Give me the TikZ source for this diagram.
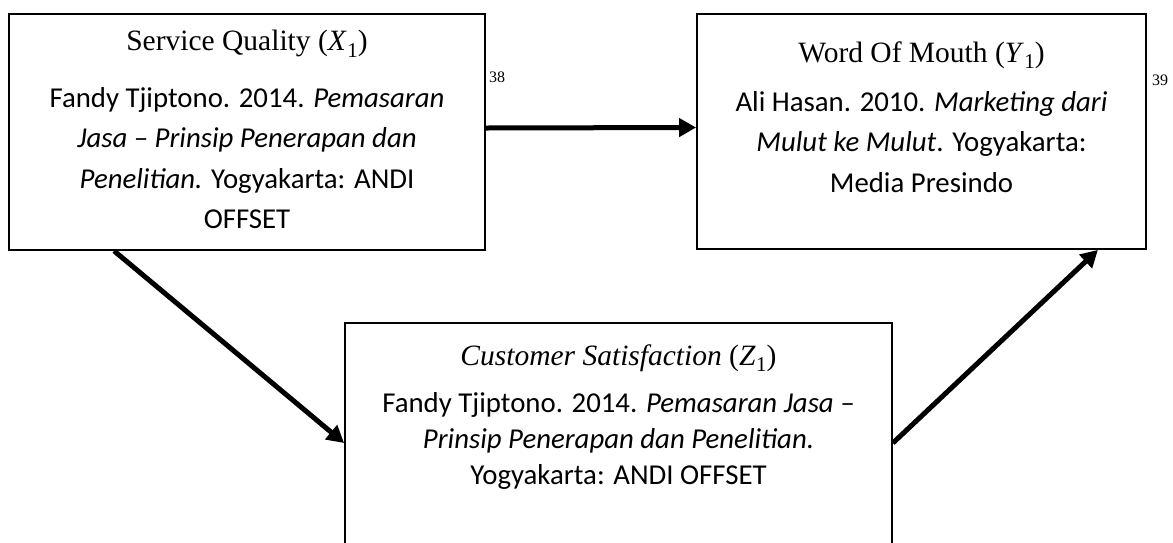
\documentclass[tikz,border=0pt]{standalone}
\usepackage{fontspec}
\setmainfont{Liberation Serif}
\newfontfamily\calibfont{Carlito}
\usetikzlibrary{arrows.meta}
\newcommand{\varsub}[2]{(\textit{#1}\kern0.5pt\raisebox{-0.22em}{\fontsize{21}{21}\selectfont #2})}
\tikzset{
  x=1pt, y=-1pt,
  box/.style={draw, line width=1.8pt, inner sep=0pt},
  title/.style={font=\fontsize{29.5}{34}\selectfont, align=center, inner sep=0pt},
  body/.style={font=\calibfont\fontsize{28.8}{40.5}\selectfont, align=center, inner sep=0pt},
  bodytight/.style={font=\calibfont\fontsize{28.8}{36}\selectfont, align=center, inner sep=0pt},
  pageno/.style={font=\fontsize{16}{18}\selectfont, anchor=west, inner sep=0pt},
  arr/.style={line width=5pt, -{Triangle[length=17pt,width=18pt]}}
}
\begin{document}
\begin{tikzpicture}
\clip (0,0) rectangle (1173,542);
\fill[white] (0,0) rectangle (1173,542);
% boxes
\node[box, minimum width=476pt, minimum height=236pt] (sq) at (247,132) {};
\node[box, minimum width=449pt, minimum height=235pt] (wom) at (921.5,131.5) {};
\node[box, minimum width=547pt, minimum height=225pt] (cs) at (618.5,435.5) {};
% titles
\node[title] (sqt) at (247,44) {Service Quality \varsub{X}{1}};
\node[title] (womt) at (921.5,55) {Word Of Mouth \varsub{Y}{1}};
\node[title] (cst) at (618.5,358) {\textit{Customer Satisfaction} \varsub{Z}{1}};
% bodies
\node[body] (sqb) at (247,158) {Fandy Tjiptono. 2014. \textit{Pemasaran}\\ \textit{Jasa – Prinsip Penerapan dan}\\ \textit{Penelitian.} Yogyakarta: ANDI\\ OFFSET};
\node[body] (womb) at (921.5,142) {Ali Hasan. 2010. \textit{Marketing dari}\\ \textit{Mulut ke Mulut}. Yogyakarta:\\ Media Presindo};
\node[bodytight] (csb) at (618.5,441) {Fandy Tjiptono. 2014. \textit{Pemasaran Jasa –}\\ \textit{Prinsip Penerapan dan Penelitian.}\\ Yogyakarta: ANDI OFFSET};
% page numbers
\node[pageno] (n38) at (489,77) {38};
\node[pageno] (n39) at (1152,80) {39};
% connectors
\draw[arr] ([yshift=4pt]sq.east) -- ([yshift=4pt]wom.west);
\draw[arr] ([xshift=106pt]sq.south west) -- ([yshift=-7.5pt]cs.west);
\draw[arr] ([yshift=-7.5pt]cs.east) -- ([xshift=-49pt]wom.south east);
\end{tikzpicture}
\end{document}
